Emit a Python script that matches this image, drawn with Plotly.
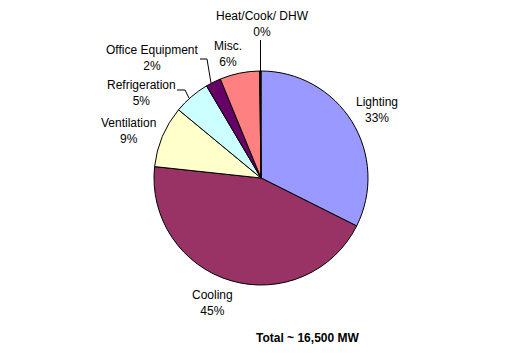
import plotly.graph_objects as go

W, H = 522, 357

categories = ["Lighting", "Cooling", "Ventilation", "Refrigeration",
              "Office Equipment", "Misc.", "Heat/Cook/ DHW"]
values = [32.4, 44.3, 9.3, 5.5, 2.3, 6.0, 0.2]
pct_labels = ["33%", "45%", "9%", "5%", "2%", "6%", "0%"]
colors = ["#9999FF", "#993366", "#FFFFCC", "#CCFFFF", "#660066", "#FF8080", "#000000"]
total_text = "Total ~ 16,500 MW"

def px(x, y):
    return x / W, 1 - y / H

fig = go.Figure()
fig.add_trace(go.Pie(
    labels=categories, values=values, sort=False, direction="clockwise",
    rotation=0, textinfo="none", hoverinfo="label+percent",
    marker=dict(colors=colors, line=dict(color="black", width=1)),
    domain=dict(x=[154 / W, 368 / W], y=[1 - 285 / H, 1 - 71 / H]),
    showlegend=False,
))

label_pos = {
    "Lighting": (377, 110),
    "Cooling": (212, 303),
    "Ventilation": (128, 131),
    "Refrigeration": (141, 93),
    "Office Equipment": (152, 58),
    "Misc.": (228, 54),
    "Heat/Cook/ DHW": (262, 24),
}
font = dict(family="Arial, Liberation Sans, sans-serif", size=12, color="black")
annotations = []
for cat, pct in zip(categories, pct_labels):
    x, y = label_pos[cat]
    ax, ay = px(x, y)
    annotations.append(dict(x=ax, y=ay, xref="paper", yref="paper",
                            text=f"{cat}<br>{pct}", showarrow=False,
                            xanchor="center", yanchor="middle", align="center",
                            font=font))
tx, ty = px(307, 338)
annotations.append(dict(x=tx, y=ty, xref="paper", yref="paper", text=f"<b>{total_text}</b>",
                        showarrow=False, xanchor="center", yanchor="middle",
                        font=dict(family="Arial, Liberation Sans, sans-serif", size=12, color="black")))

leaders = [
    [(260.5, 40), (260.5, 71)],
    [(200, 59), (207, 59), (211, 83)],
    [(177, 90), (185, 90), (189, 98)],
]
shapes = []
for pts in leaders:
    for (x0, y0), (x1, y1) in zip(pts[:-1], pts[1:]):
        a0, b0 = px(x0, y0)
        a1, b1 = px(x1, y1)
        shapes.append(dict(type="line", xref="paper", yref="paper",
                           x0=a0, y0=b0, x1=a1, y1=b1,
                           line=dict(color="black", width=1)))

fig.update_layout(
    width=W, height=H, margin=dict(l=0, r=0, t=0, b=0),
    paper_bgcolor="white", plot_bgcolor="white",
    annotations=annotations, shapes=shapes,
)
fig.write_html("out.html", config={"displayModeBar": False},
               post_script="document.body.style.margin='0';document.body.style.overflow='hidden';")
